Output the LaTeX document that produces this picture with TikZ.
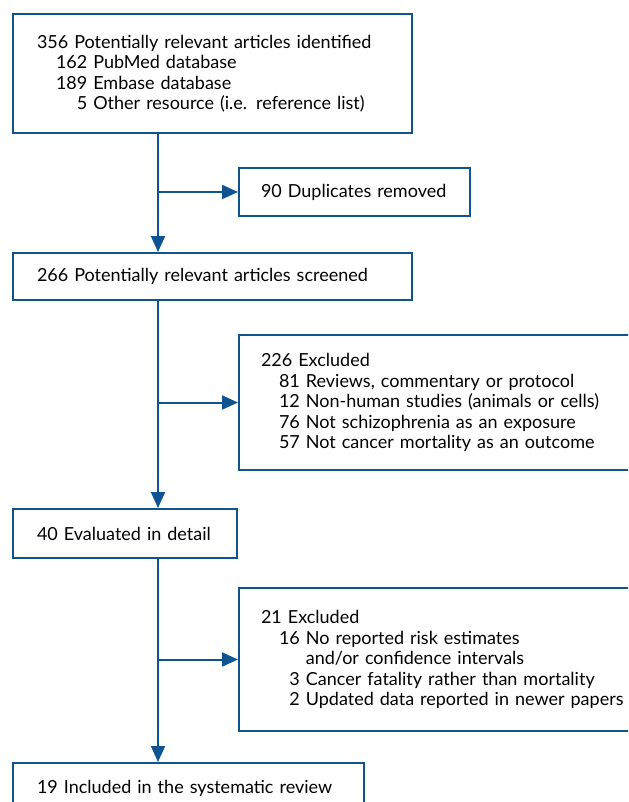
\documentclass[tikz,border=0pt]{standalone}
\usepackage{fontspec}
\setmainfont{Lato}
\usetikzlibrary{positioning,arrows.meta}
\definecolor{flowblue}{RGB}{14,84,145}

\begin{document}
\begin{tikzpicture}[x=0.75pt, y=-0.75pt, >={Triangle[length=12pt, width=10.5pt]},
  box/.style={draw=flowblue, line width=1.5pt, anchor=north west, align=left,
    inner xsep=18pt, inner ysep=0pt, font=\fontsize{13.5}{15.4}\selectfont},
  side/.style={box, inner xsep=16.5pt},
  link/.style={->, draw=flowblue, line width=1.5pt}]

\useasboundingbox (0,0) rectangle (628,802);
\clip (0,0) rectangle (628,802);

% main column
\node [box, minimum width=299.25pt, minimum height=89.25pt, text width=263.25pt]
  (identified) at (12,13)
  {356 Potentially relevant articles identified\\
   \hspace*{14.25pt}162 PubMed database\\
   \hspace*{14.25pt}189 Embase database\\
   \hspace*{14.25pt}\hphantom{16}5 Other resource (i.e. reference list)};

\node [box, minimum width=299.25pt, minimum height=35.25pt, text width=263.25pt]
  (screened) at (12,252) {266 Potentially relevant articles screened};

\node [box, minimum width=168pt, minimum height=36.75pt, text width=132pt]
  (evaluated) at (12,508) {40 Evaluated in detail};

\node [box, minimum width=263.25pt, minimum height=37.5pt, text width=227.25pt]
  (included) at (12,762) {19 Included in the systematic review};

% side boxes
\node [side, minimum width=173.25pt, minimum height=36pt, text width=140.25pt]
  (duplicates) at (238,167) {90 Duplicates removed};

\node [side, minimum width=315pt, minimum height=101.25pt, text width=282pt]
  (excluded-1) at (238,334)
  {226 Excluded\\
   \hspace*{13.5pt}81 Reviews, commentary or protocol\\
   \hspace*{13.5pt}12 Non-human studies (animals or cells)\\
   \hspace*{13.5pt}76 Not schizophrenia as an exposure\\
   \hspace*{13.5pt}57 Not cancer mortality as an outcome};

\node [side, minimum width=315pt, minimum height=107.25pt, text width=282pt]
  (excluded-2) at (238,587)
  {21 Excluded\\
   \hspace*{13.5pt}16 No reported risk estimates\\
   \hspace*{13.5pt}\hphantom{16\ }and/or confidence intervals\\
   \hspace*{13.5pt}\hphantom{1}3 Cancer fatality rather than mortality\\
   \hspace*{13.5pt}\hphantom{1}2 Updated data reported in newer papers};

\coordinate (trunk) at (158,0);

\foreach \a/\b in {identified/screened, screened/evaluated, evaluated/included}
  \draw [link] (\a.south -| trunk) -- (\b.north -| trunk);

\foreach \c in {duplicates, excluded-1, excluded-2}
  \draw [link] (trunk |- \c.west) -- (\c.west);

\end{tikzpicture}
\end{document}
